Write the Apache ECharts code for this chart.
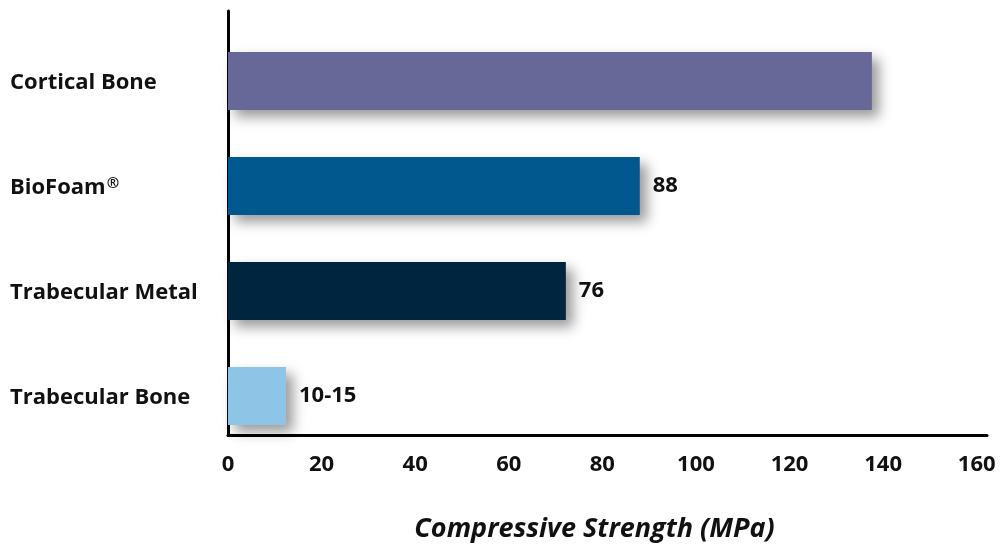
<!DOCTYPE html>
<html>
<head>
<meta charset="utf-8">
<script src="https://cdn.jsdelivr.net/npm/echarts@6/dist/echarts.min.js"></script>
<style>html,body{margin:0;padding:0;background:#fff}#c{width:1001px;height:548px}</style>
</head>
<body>
<div id="c"></div>
<script>
// bottom to top
const categories = ['Trabecular Bone', 'Trabecular Metal', 'BioFoam®', 'Cortical Bone'];
const values = [12.4, 72.2, 88, 137.6];
const valueLabels = ['10-15', '76', '88', ''];
const barColors = ['#8ec5e6', '#00263f', '#00588f', '#686898'];
const xTicks = [0, 20, 40, 60, 80, 100, 120, 140, 160];
const xTitle = 'Compressive Strength (MPa)';

const FONT = '"Open Sans", "Noto Sans", sans-serif';
const chart = echarts.init(document.getElementById('c'), null, {renderer: 'canvas'});
const XMAX = 162.2;
chart.setOption({
  animation: false,
  grid: [
    {left: 228, width: 759, top: 28.5, height: 420},
    {left: 228, width: 759, top: 11, height: 449}
  ],
  xAxis: [
    {gridIndex: 0, type: 'value', min: 0, max: XMAX, show: false},
    {gridIndex: 1, type: 'value', min: 0, max: XMAX, interval: 20,
     axisLine: {show: true, lineStyle: {color: '#000', width: 3}},
     axisTick: {show: false}, splitLine: {show: false},
     axisLabel: {margin: 19, color: '#111', fontFamily: FONT, fontWeight: 'bold', fontSize: 22,
       formatter: v => xTicks.indexOf(v) >= 0 ? String(v) : ''},
     name: xTitle, nameLocation: 'middle', nameGap: 81,
     nameTextStyle: {color: '#111', fontFamily: FONT, fontWeight: 'bold', fontStyle: 'italic', fontSize: 27, padding: [0, 26, 0, 0]}
    }
  ],
  yAxis: [
    {gridIndex: 0, type: 'category', data: categories,
     axisLine: {show: false}, axisTick: {show: false},
     axisLabel: {align: 'left', margin: 218, color: '#111', fontFamily: FONT, fontWeight: 'bold', fontSize: 22,
       padding: [4, 0, 0, 0],
       formatter: v => v.replace('®', '{sup|®}'),
       rich: {sup: {fontSize: 15, fontWeight: 'bold', fontFamily: FONT, color: '#111', verticalAlign: 'top', padding: [0, 0, 8, 1]}}}
    },
    {gridIndex: 1, type: 'value', min: 0, max: 1,
     axisLine: {show: true, lineStyle: {color: '#000', width: 3}},
     axisTick: {show: false}, axisLabel: {show: false}, splitLine: {show: false}
    }
  ],
  series: [{
    type: 'bar', xAxisIndex: 0, yAxisIndex: 0, barWidth: 58,
    data: values.map((v, i) => ({value: v, itemStyle: {color: barColors[i]}})),
    itemStyle: {shadowBlur: 12, shadowOffsetX: 7, shadowOffsetY: 7, shadowColor: 'rgba(0,0,0,0.4)'},
    label: {show: true, position: 'right', distance: 13, color: '#111', fontFamily: FONT,
      fontWeight: 'bold', fontSize: 22, padding: [3, 0, 0, 0], formatter: p => valueLabels[p.dataIndex]}
  }]
});
</script>
</body>
</html>
